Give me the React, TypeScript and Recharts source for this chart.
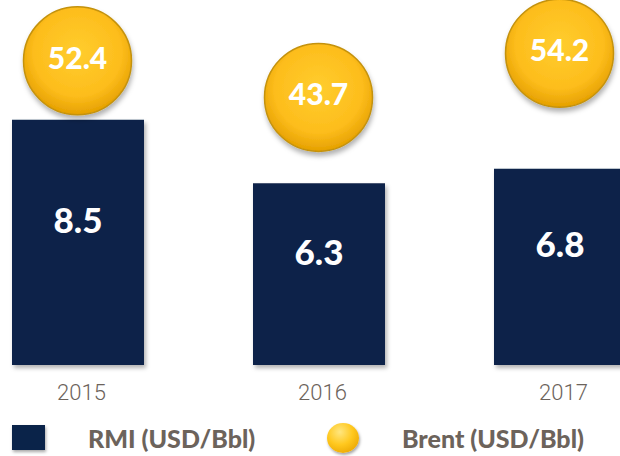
import { ComposedChart, Bar, Line, XAxis, YAxis, LabelList, Legend } from 'recharts';

const years = ['2015', '2016', '2017'];
const rmi = [8.5, 6.3, 6.8];
const brent = [52.4, 43.7, 54.2];

const data = years.map((year, i) => ({ year, rmi: rmi[i], brent: brent[i] }));

const NAVY = '#0a2349';
const TEXT = '#6c635b';

// legend order and placement (page px)
const legendKeys = ['rmi', 'brent'];
const legendSwatchX = [12, 327];
const legendTextX = [88, 402];

const Coin = ({ cx, cy, payload }: any) => {
  if (cx == null || cy == null) return null;
  return (
    <g>
      <circle cx={cx} cy={cy} r={54} fill="url(#coin)" stroke="#c4920c" strokeWidth={1.5} filter="url(#coinShadow)" />
      <text
        x={cx}
        y={cy - 4}
        textAnchor="middle"
        dominantBaseline="central"
        fill="#fff"
        fontFamily="Lato"
        fontWeight={900}
        fontSize={30}
      >
        {payload.brent}
      </text>
    </g>
  );
};

const LegendContent = ({ payload }: any) => {
  const items = [...(payload || [])].sort(
    (a: any, b: any) => legendKeys.indexOf(a.dataKey) - legendKeys.indexOf(b.dataKey)
  );
  return (
    <div style={{ position: 'relative', width: 620, height: 36, fontFamily: 'Lato', fontWeight: 900, fontSize: 25, color: TEXT }}>
      {items.map((item: any, i: number) => (
        <div key={item.value}>
          {item.dataKey === 'rmi' ? (
            <span
              style={{
                position: 'absolute', left: legendSwatchX[i], top: 5, width: 33, height: 25,
                background: NAVY, boxShadow: '1px 2px 3px rgba(0,0,0,0.35)',
              }}
            />
          ) : (
            <span
              style={{
                position: 'absolute', left: legendSwatchX[i], top: 3, width: 32, height: 30, borderRadius: '50%',
                background: 'radial-gradient(circle at 40% 30%, #ffe680 0%, #ffc81e 45%, #e9a400 85%, #b88000 100%)',
                boxShadow: '1px 2px 3px rgba(0,0,0,0.35)',
              }}
            />
          )}
          <span style={{ position: 'absolute', left: legendTextX[i], top: 1, whiteSpace: 'nowrap', lineHeight: '34px' }}>
            {item.value}
          </span>
        </div>
      ))}
    </div>
  );
};

export default function App() {
  return (
    <div style={{ position: 'fixed', left: 0, top: 0, width: 620, height: 456, overflow: 'hidden', background: '#fff' }}>
      <div style={{ position: 'absolute', left: -60, top: 0 }}>
        <ComposedChart width={760} height={456} data={data} margin={{ top: 10, right: 20, bottom: 61, left: 17 }}>
          <defs>
            <radialGradient id="coin" cx="50%" cy="42%" r="58%">
              <stop offset="0%" stopColor="#ffcd2e" />
              <stop offset="70%" stopColor="#fdbd1c" />
              <stop offset="100%" stopColor="#e5a000" />
            </radialGradient>
            <filter id="coinShadow" x="-20%" y="-20%" width="140%" height="150%">
              <feDropShadow dx={1} dy={4} stdDeviation={2.5} floodColor="#000" floodOpacity={0.3} />
            </filter>
            <filter id="barShadow" x="-10%" y="-10%" width="125%" height="125%">
              <feDropShadow dx={2} dy={3} stdDeviation={2} floodColor="#000" floodOpacity={0.3} />
            </filter>
          </defs>
          <XAxis
            dataKey="year"
            axisLine={false}
            tickLine={false}
            interval={0}
            height={30}
            tickMargin={13}
            tick={{ fill: TEXT, fontSize: 22, fontFamily: 'Roboto', fontWeight: 300, dx: 4 }}
          />
          <YAxis yAxisId="rmi" hide domain={[0, 12.3]} />
          <YAxis yAxisId="brent" hide domain={[-20, 64.5]} />
          <Legend
            layout="horizontal"
            verticalAlign="middle"
            align="center"
            wrapperStyle={{ top: 420, left: 60, width: 620, height: 36 }}
            content={<LegendContent />}
          />
          <Bar
            yAxisId="rmi"
            dataKey="rmi"
            name="RMI (USD/Bbl)"
            barSize={132}
            fill={NAVY}
            filter="url(#barShadow)"
            isAnimationActive={false}
          >
            <LabelList
              dataKey="rmi"
              position="center"
              fill="#fff"
              fontFamily="Lato"
              fontWeight={900}
              fontSize={35}
              dy={-22}
            />
          </Bar>
          <Line
            yAxisId="brent"
            dataKey="brent"
            name="Brent (USD/Bbl)"
            stroke="none"
            strokeWidth={0}
            dot={<Coin />}
            activeDot={false}
            isAnimationActive={false}
          />
        </ComposedChart>
      </div>
    </div>
  );
}
